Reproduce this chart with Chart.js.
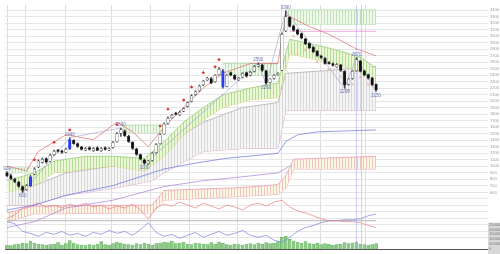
<!DOCTYPE html>
<html>
<head>
<meta charset="utf-8">
<script src="https://cdn.jsdelivr.net/npm/chart.js@4.4.0/dist/chart.umd.min.js"></script>
<style>
  html, body { margin: 0; padding: 0; background: #fff; }
  #wrap { width: 500px; height: 254px; }
</style>
</head>
<body>
<div id="wrap"><canvas id="chart"></canvas></div>
<script>
// candles, one per bar index
const opens = [
  900, 860, 800, 760, 690, 640, 700, 880, 990, 1060,
  1120, 1080, 1180, 1250, 1240, 1220, 1270, 1400, 1350, 1300,
  1250, 1290, 1240, 1290, 1240, 1290, 1250, 1290, 1380, 1510,
  1540, 1460, 1370, 1270, 1180, 1100, 1040, 1090, 1210, 1350,
  1500, 1660, 1750, 1820, 1790, 1850, 1920, 2000, 2100, 2160,
  2250, 2330, 2350, 2300, 2410, 2470, 2230, 2440, 2400, 2330,
  2370, 2440, 2400, 2460, 2540, 2560, 2470, 2290, 2350, 2410,
  2480, 3080, 3290, 3160, 3100, 3040, 2960, 2890, 2830, 2770,
  2700, 2660, 2600, 2580, 2530, 2560, 2460, 2260, 2350, 2470,
  2620, 2470, 2410, 2360, 2260
];
const highs = [
  920, 880, 820, 770, 700, 720, 860, 980, 1100, 1130,
  1130, 1190, 1250, 1260, 1250, 1280, 1440, 1410, 1360, 1310,
  1290, 1300, 1290, 1300, 1290, 1300, 1290, 1380, 1520, 1590,
  1560, 1480, 1380, 1280, 1190, 1110, 1090, 1210, 1350, 1500,
  1670, 1760, 1800, 1830, 1850, 1900, 1990, 2100, 2160, 2250,
  2320, 2370, 2370, 2410, 2520, 2490, 2410, 2450, 2410, 2370,
  2440, 2450, 2460, 2550, 2590, 2570, 2480, 2350, 2410, 2440,
  3050, 3390, 3300, 3170, 3110, 3050, 2970, 2900, 2840, 2780,
  2710, 2670, 2610, 2590, 2580, 2570, 2470, 2350, 2470, 2670,
  2630, 2480, 2420, 2370, 2270
];
const lows = [
  840, 800, 750, 680, 600, 630, 690, 870, 980, 1050,
  1050, 1070, 1170, 1220, 1200, 1210, 1260, 1340, 1290, 1250,
  1240, 1250, 1230, 1240, 1230, 1250, 1240, 1280, 1370, 1460,
  1460, 1370, 1260, 1170, 1100, 1030, 1030, 1080, 1200, 1340,
  1490, 1650, 1740, 1790, 1780, 1840, 1910, 1990, 2090, 2150,
  2240, 2320, 2270, 2290, 2400, 2200, 2220, 2390, 2330, 2320,
  2360, 2370, 2390, 2450, 2530, 2460, 2260, 2280, 2340, 2400,
  2470, 3070, 3140, 3080, 3020, 2960, 2870, 2810, 2750, 2690,
  2660, 2570, 2570, 2540, 2520, 2460, 2200, 2250, 2340, 2460,
  2450, 2390, 2340, 2240, 2150
];
const closes = [
  855, 810, 765, 690, 630, 705, 840, 960, 1080, 1110,
  1065, 1170, 1230, 1230, 1215, 1260, 1410, 1350, 1305, 1260,
  1275, 1260, 1275, 1245, 1275, 1260, 1275, 1365, 1500, 1560,
  1470, 1380, 1275, 1185, 1110, 1050, 1080, 1200, 1335, 1485,
  1650, 1740, 1785, 1800, 1830, 1890, 1980, 2085, 2145, 2235,
  2310, 2355, 2280, 2400, 2490, 2220, 2400, 2400, 2340, 2355,
  2430, 2385, 2445, 2535, 2565, 2475, 2280, 2340, 2400, 2430,
  3030, 3300, 3150, 3090, 3030, 2970, 2880, 2820, 2760, 2700,
  2670, 2580, 2580, 2550, 2565, 2475, 2250, 2340, 2460, 2640,
  2460, 2400, 2355, 2250, 2175
];
const volumes = [
  40000, 35000, 45000, 50000, 60000, 55000, 80000, 60000, 50000, 45000,
  40000, 45000, 50000, 65000, 40000, 55000, 85000, 60000, 45000, 40000,
  35000, 45000, 40000, 50000, 75000, 45000, 40000, 55000, 70000, 60000,
  50000, 45000, 40000, 55000, 45000, 60000, 50000, 40000, 55000, 60000,
  70000, 65000, 80000, 55000, 60000, 70000, 50000, 45000, 60000, 55000,
  50000, 45000, 65000, 50000, 70000, 60000, 45000, 40000, 50000, 45000,
  40000, 50000, 55000, 45000, 60000, 50000, 65000, 55000, 60000, 75000,
  120000, 130000, 100000, 80000, 70000, 60000, 75000, 55000, 50000, 60000,
  45000, 55000, 50000, 40000, 45000, 50000, 65000, 55000, 60000, 70000,
  50000, 45000, 40000, 45000, 55000
];
const blueBars = [6, 16, 55];

// x axis
const monthTicks = [0.25, 4.75, 15, 26.5, 36.5, 46.5, 58.75, 70, 79.75, 91.25];
const monthLabels = ['10', '11', '12', '1', '2', '3', '4', '5', '6', '7'];

// cloud near price
const bandX = [0, 7, 12, 20, 27, 35, 40, 45, 50, 55, 62, 69, 72, 81, 90, 94];
const bandTop = [780, 900, 1080, 1155, 1155, 1125, 1380, 1680, 1905, 2100, 2205, 2280, 2955, 2835, 2685, 2505];
const bandBottom = [600, 705, 900, 960, 1005, 930, 1155, 1485, 1710, 1905, 2025, 2055, 2730, 2610, 2460, 2280];

// long cloud
const grayX = [0, 7, 15, 27, 37, 40, 50, 60, 69, 71, 82, 94];
const grayTop = [660, 705, 900, 1005, 1080, 1305, 1680, 1905, 1980, 2430, 2475, 2535];
const grayBottom = [405, 405, 555, 660, 780, 900, 1230, 1275, 1275, 1860, 1860, 1860];

// lower band
const pinkX = [0, 7, 37, 40, 60, 69, 71, 73, 94];
const pinkTop = [285, 390, 405, 630, 675, 720, 855, 1110, 1155];
const pinkBottom = [150, 270, 285, 480, 540, 570, 660, 960, 960];

// boxes: [from, to, top, bottom]
const boxFrom = [0, 29, 55, 71];
const boxTo = [6, 40, 69, 94];
const boxTop = [975, 1635, 2580, 3405];
const boxBottom = [900, 1515, 2400, 3180];

// lines
const redX = [0, 5, 8, 15, 22, 28, 32, 36, 40, 45, 50, 55, 62, 69, 71, 77, 82, 89, 94];
const redY = [1005, 930, 1230, 1485, 1410, 1680, 1530, 1305, 1605, 1905, 2205, 2430, 2580, 2580, 3330, 3150, 3030, 2805, 2700];
const flatX = [72, 94];
const flatY = [3075, 3075];
const blueLowX = [0, 7, 15, 27, 40, 48, 56, 69, 71, 74, 79, 94];
const blueLowY = [330, 405, 555, 705, 960, 1050, 1125, 1200, 1380, 1485, 1530, 1560];
const purpleX = [0, 7, 15, 27, 40, 50, 60, 69, 72];
const purpleY = [60, 150, 360, 480, 690, 780, 840, 900, 1005];

// swing points
const pivotIdx = [0, 4, 16, 29, 35, 64, 66, 71, 86, 89, 94];
const pivotIsHigh = [true, false, true, true, false, true, false, true, false, true, false];
const signalIdx = [7, 12, 16, 28, 39, 41, 45, 47, 50, 53, 54];
const pinkMarkIdx = [73, 76, 79, 82, 85, 87, 88, 90, 92];
const cursorX = [89, 90.3];

// oscillator
const oscX = [0, 2, 4, 6, 8, 10, 12, 14, 16, 18, 20, 22, 24, 26, 28, 30, 32, 34, 36, 38, 40, 42, 44, 46,
  48, 50, 52, 54, 56, 58, 60, 62, 64, 66, 68, 70, 72, 74, 76, 78, 80, 82, 84, 86, 88, 90, 92, 94];
const oscRed = [2, 6, 13, 15, 18, 14, 16, 13, 17, 15, 18, 14, 16, 12, 15, 13, 17, 11, 2, 13, 17, 15, 19, 16,
  13, 18, 15, 12, 16, 14, 11, 16, 18, 15, 19, 21, 14, 10, 8, 5, 2, 0, 0, -1, -1, -2, -5, -7];
const oscBlue = [-1, -3, -11, -13, -16, -12, -14, -11, -15, -13, -16, -12, -14, -10, -13, -11, -15, -9, -2, -12, -16, -14, -18, -15,
  -12, -17, -14, -11, -15, -13, -10, -15, -17, -15, -20, -22, -17, -11, -7, -5, -2, 0, 0, 1, 1, 2, 5, 7];

const volTicks = [250000, 200000, 150000, 100000, 50000, 0];

const canvas = document.getElementById('chart');
const ctx = canvas.getContext('2d');

function hatch(bg, line) {
  const c = document.createElement('canvas');
  c.width = 3; c.height = 4;
  const g = c.getContext('2d');
  g.fillStyle = bg; g.fillRect(0, 0, 3, 4);
  g.fillStyle = line; g.fillRect(0, 0, 1, 4);
  return ctx.createPattern(c, 'repeat');
}
const pts = (xs, ys) => xs.map((x, k) => ({x: x, y: ys[k]}));
const line = (data, color, extra) => Object.assign({
  type: 'line', data: data, borderColor: color, borderWidth: 0.7,
  pointRadius: 0, fill: false, yAxisID: 'y', order: 3
}, extra || {});

const bodyFill = closes.map((c, i) => blueBars.includes(i) ? '#2b3df0' : (c >= opens[i] ? '#ffffff' : '#111111'));
const bodyLine = closes.map((c, i) => blueBars.includes(i) ? '#2b3df0' : '#444444');

const datasets = [
  { type: 'bar', data: closes.map((c, i) => ({x: i, y: [opens[i], c]})), backgroundColor: bodyFill,
    borderColor: bodyLine, borderWidth: 0.5, borderSkipped: false, barThickness: 2.6, grouped: false, order: 0 },
  { type: 'bar', data: highs.map((h, i) => ({x: i, y: [lows[i], h]})), backgroundColor: '#444',
    barThickness: 0.8, grouped: false, order: 1 },
  { type: 'scatter', data: signalIdx.map(i => ({x: i, y: highs[i] + 120})), pointStyle: 'rectRot',
    pointRadius: 1.2, backgroundColor: '#e03030', borderColor: '#e03030', order: 0 },
  { type: 'scatter', data: pinkMarkIdx.map(i => ({x: i, y: lows[i] - 80})), pointStyle: 'crossRot',
    pointRadius: 1.5, borderColor: '#f08a8a', borderWidth: 0.7, order: 0 },
  line(pivotIdx.map((i, k) => ({x: i, y: pivotIsHigh[k] ? highs[i] : lows[i]})), '#9a9ed0', {borderWidth: 0.6, order: 2}),
  line(pts(redX, redY), '#e06a6a'),
  line(pts(flatX, flatY), '#ec88d0'),
  line(pts(blueLowX, blueLowY), '#6a72dc'),
  line(pts(purpleX, purpleY), '#a880d6'),
  line([{x: cursorX[0], y: -270}, {x: cursorX[0], y: 3480}], '#a4aaee', {borderWidth: 0.6}),
  line([{x: cursorX[1], y: -270}, {x: cursorX[1], y: 3480}], '#a4aaee', {borderWidth: 0.6}),
  line(pts(oscX, oscRed), '#e88080', {yAxisID: 'osc'}),
  line(pts(oscX, oscBlue), '#7a80dc', {yAxisID: 'osc'}),
  line([{x: 0, y: 0}, {x: 94, y: 0}], '#9a9a9a', {yAxisID: 'osc'}),
  line(pts(bandX, bandTop), '#8cc870', {fill: '+1', backgroundColor: hatch('#edf7d8', '#b2dc98'), order: 4}),
  line(pts(bandX, bandBottom), '#d8cc5a', {order: 4})
];
boxFrom.forEach((f, k) => {
  datasets.push(line([{x: f, y: boxTop[k]}, {x: boxTo[k], y: boxTop[k]}], '#9ad496',
    {fill: '+1', backgroundColor: hatch('#f0f8ec', '#bfe0b8'), borderWidth: 0.6, order: 4}));
  datasets.push(line([{x: f, y: boxBottom[k]}, {x: boxTo[k], y: boxBottom[k]}], '#9ad496', {borderWidth: 0.6, order: 4}));
});
datasets.push(
  line(pts(grayX, grayTop), '#a8a8a8', {fill: '+1', backgroundColor: hatch('#f5f5f5', '#d8d8d8'), order: 5}),
  line(pts(grayX, grayBottom), '#d88ac0', {order: 5}),
  line(pts(pinkX, pinkTop), '#e890a8', {fill: '+1', backgroundColor: hatch('#fbf8e2', '#f0c4c4'), order: 5}),
  line(pts(pinkX, pinkBottom), '#e890a8', {order: 5}),
  { type: 'bar', data: volumes.map((v, i) => ({x: i, y: v})), yAxisID: 'vol', backgroundColor: '#8ccc88',
    borderColor: '#66ae62', borderWidth: 0.5, barThickness: 3, grouped: false, order: 6 }
);

const labelPlugin = {
  id: 'labels',
  afterDatasetsDraw(chart) {
    const c = chart.ctx, x = chart.scales.x, y = chart.scales.y;
    c.save();
    c.font = '4.5px sans-serif';
    c.fillStyle = '#6a76b0';
    c.textAlign = 'center';
    pivotIdx.forEach((i, k) => {
      const v = pivotIsHigh[k] ? highs[i] : lows[i];
      c.fillText(String(v), x.getPixelForValue(i), y.getPixelForValue(v) + (pivotIsHigh[k] ? -2 : 5));
    });
    c.restore();
  },
  afterDraw(chart) {
    const c = chart.ctx, s = chart.scales.vol, left = chart.chartArea.right;
    const top = s.getPixelForValue(270000);
    c.save();
    c.fillStyle = '#d8d8d8';
    c.fillRect(left, top, chart.width - left, chart.height - top);
    c.font = '4px sans-serif';
    c.fillStyle = '#777';
    c.textBaseline = 'middle';
    volTicks.forEach(v => c.fillText(String(v), left + 1, s.getPixelForValue(v)));
    c.restore();
  }
};

new Chart(canvas, {
  type: 'bar',
  data: { datasets: datasets },
  options: {
    responsive: true,
    maintainAspectRatio: false,
    animation: false,
    events: [],
    layout: { padding: 0 },
    plugins: { legend: { display: false }, tooltip: { enabled: false } },
    scales: {
      x: {
        type: 'linear', min: -0.5, max: 122.5, offset: false,
        afterBuildTicks: s => { s.ticks = monthTicks.map(v => ({value: v})); },
        afterFit: s => { s.height = 3; },
        ticks: { font: { size: 4 }, color: '#555', padding: 0, maxRotation: 0, autoSkip: false,
          callback: (v, i) => monthLabels[i] },
        grid: { color: '#dedede', tickLength: 2, offset: false },
        border: { color: '#555' }
      },
      y: {
        position: 'right', min: -270, max: 3480,
        afterFit: s => { s.width = 12; },
        ticks: { stepSize: 100, autoSkip: false, font: { size: 4 }, color: '#999', padding: 2,
          callback: v => (v % 100 === 0 && v >= 600 && v <= 3400) ? v : '' },
        grid: { color: c => (c.tick && c.tick.value % 100 === 0) ? '#e6e6e6' : 'rgba(0,0,0,0)', drawTicks: false },
        border: { display: false }
      },
      vol: { display: false, min: 0, max: 2500000 },
      osc: { display: false, min: -29, max: 221 }
    }
  },
  plugins: [labelPlugin]
});
</script>
</body>
</html>
